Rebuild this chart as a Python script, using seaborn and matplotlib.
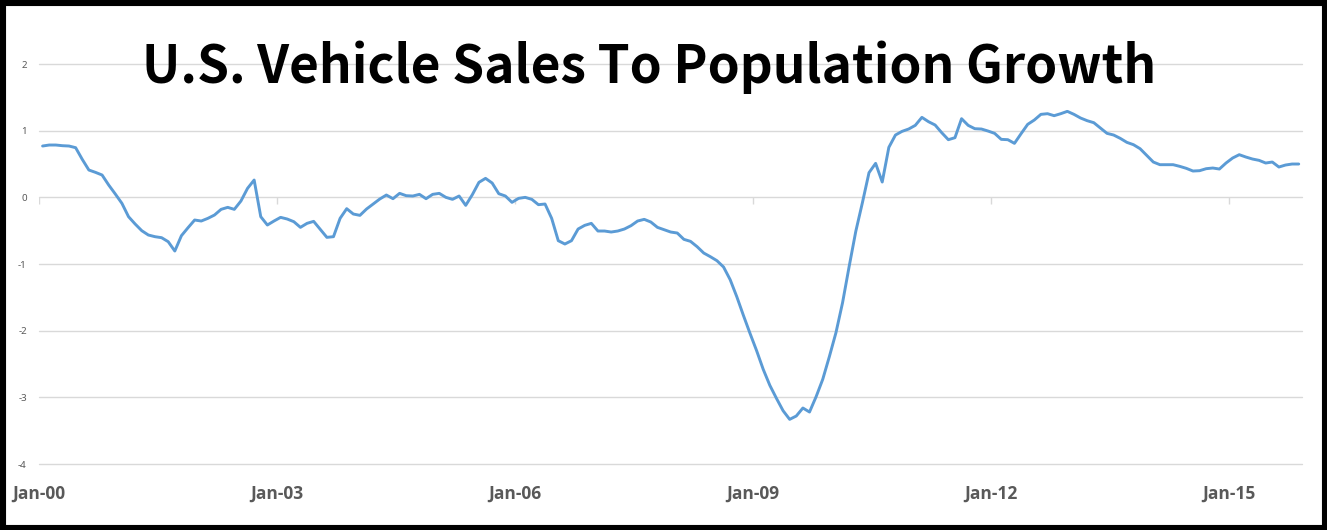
import numpy as np
import pandas as pd
import seaborn as sns
import matplotlib.pyplot as plt
from matplotlib.patches import Rectangle

# monthly values, Jan-2000 .. Nov-2015
ratio = [
    0.77, 0.785, 0.785, 0.775, 0.77, 0.745, 0.57, 0.41, 0.375, 0.335,
    0.185, 0.05, -0.09, -0.29, -0.40, -0.50, -0.565, -0.59, -0.605, -0.665,
    -0.805, -0.575, -0.455, -0.34, -0.355, -0.315, -0.265, -0.18, -0.15, -0.18,
    -0.055, 0.135, 0.26, -0.29, -0.415, -0.355, -0.30, -0.325, -0.365, -0.45,
    -0.39, -0.36, -0.48, -0.60, -0.59, -0.315, -0.17, -0.25, -0.27, -0.175,
    -0.10, -0.025, 0.035, -0.02, 0.06, 0.025, 0.02, 0.045, -0.02, 0.045,
    0.06, 0.0, -0.03, 0.02, -0.12, 0.04, 0.225, 0.285, 0.215, 0.055,
    0.02, -0.075, -0.015, 0.0, -0.03, -0.11, -0.10, -0.315, -0.65, -0.70,
    -0.65, -0.475, -0.42, -0.39, -0.505, -0.505, -0.52, -0.505, -0.475, -0.425,
    -0.355, -0.33, -0.37, -0.45, -0.485, -0.52, -0.535, -0.63, -0.66, -0.74,
    -0.835, -0.89, -0.95, -1.045, -1.235, -1.49, -1.77, -2.04, -2.30, -2.58,
    -2.82, -3.015, -3.20, -3.33, -3.28, -3.16, -3.22, -2.99, -2.73, -2.39,
    -2.03, -1.58, -1.035, -0.51, -0.08, 0.37, 0.51, 0.23, 0.75, 0.935,
    0.99, 1.025, 1.08, 1.20, 1.135, 1.085, 0.97, 0.865, 0.895, 1.18,
    1.08, 1.03, 1.025, 0.995, 0.96, 0.87, 0.865, 0.81, 0.955, 1.095,
    1.16, 1.245, 1.255, 1.225, 1.255, 1.29, 1.245, 1.19, 1.15, 1.12,
    1.04, 0.96, 0.935, 0.885, 0.825, 0.79, 0.73, 0.63, 0.53, 0.49,
    0.49, 0.49, 0.465, 0.435, 0.395, 0.40, 0.43, 0.44, 0.425, 0.515,
    0.59, 0.64, 0.605, 0.575, 0.555, 0.515, 0.53, 0.455, 0.485, 0.50,
    0.50,
]
year_labels = ["Jan-00", "Jan-03", "Jan-06", "Jan-09", "Jan-12", "Jan-15"]
y_ticks = [-4, -3, -2, -1, 0, 1, 2]

df = pd.DataFrame({"month": np.arange(len(ratio)) + 0.5, "ratio": ratio})

sns.set_style("white")
plt.rcParams["font.family"] = ["Noto Sans", "DejaVu Sans"]

fig = plt.figure(figsize=(13.27, 5.30), dpi=100)
ax = fig.add_axes([0.0296, 0.1245, 0.9516, 0.7547])

grid_col = "#d9d9d9"
for v in y_ticks:
    ax.axhline(v, color=grid_col, lw=1, zorder=0, clip_on=False)

sns.lineplot(data=df, x="month", y="ratio", ax=ax, color="#5b9bd5", lw=2.1, zorder=3)

tick_pos = np.arange(0, 181, 36)
ax.vlines(tick_pos, -0.105, 0, color=grid_col, lw=1, zorder=1)

ax.set_xlim(0, 191)
ax.set_ylim(-4, 2)
ax.set_xticks(tick_pos)
ax.set_xticklabels(year_labels, fontsize=12.5, fontweight="bold", color="#595959",
                   family=["Open Sans", "DejaVu Sans"])
ax.set_yticks(y_ticks)
ax.set_yticklabels([str(v) for v in y_ticks], fontsize=7, color="#595959")
ax.tick_params(axis="x", length=0, pad=15)
ax.tick_params(axis="y", length=0, pad=9)
ax.set_xlabel("")
ax.set_ylabel("")
for s in ax.spines.values():
    s.set_visible(False)

fig.text(0.489, 0.8434, "U.S. Vehicle Sales To Population Growth",
         ha="center", va="baseline", fontsize=37, color="black",
         family=["Noto Sans CJK JP", "DejaVu Sans"], fontweight="bold", zorder=5)

fig.patches.append(Rectangle((0, 0), 1, 1, transform=fig.transFigure,
                             fill=False, edgecolor="black", linewidth=8))

fig.savefig("out.png", dpi=100)
